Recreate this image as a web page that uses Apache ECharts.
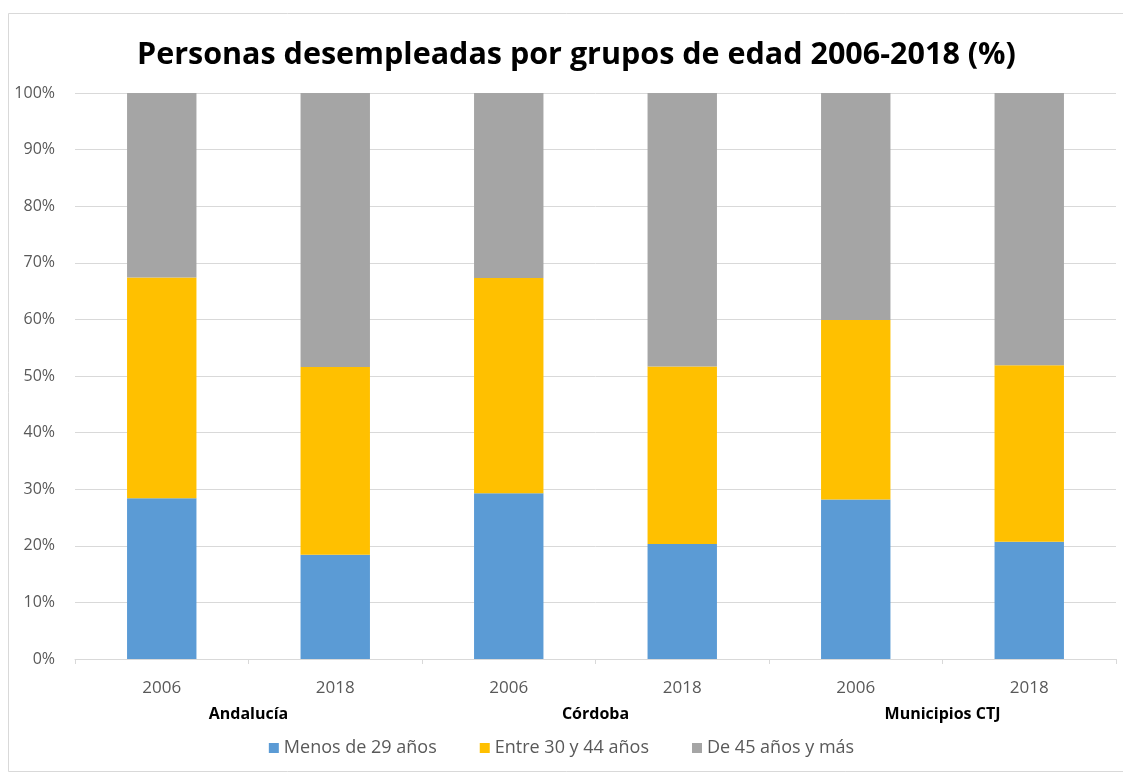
<!DOCTYPE html>
<html>
<head>
<meta charset="utf-8">
<script src="https://cdn.jsdelivr.net/npm/echarts@6/dist/echarts.min.js"></script>
<style>
html,body{margin:0;padding:0;background:#fff;}
#chart{width:1123px;height:774px;}
</style>
</head>
<body>
<div id="chart"></div>
<script>
const years = ['2006', '2018', '2006', '2018', '2006', '2018'];
const regions = ['Andalucía', 'Córdoba', 'Municipios CTJ'];
const seriesNames = ['Menos de 29 años', 'Entre 30 y 44 años', 'De 45 años y más'];
const menos29 = [28.4, 18.4, 29.3, 20.3, 28.2, 20.7];
const entre30y44 = [39.0, 33.2, 38.0, 31.4, 31.7, 31.2];
const de45ymas = [32.6, 48.4, 32.7, 48.3, 40.1, 48.1];
const yTicks = [0, 10, 20, 30, 40, 50, 60, 70, 80, 90, 100];
const colors = ['#5B9BD5', '#FFC000', '#A5A5A5'];

const chart = echarts.init(document.getElementById('chart'), null, {renderer: 'canvas'});
const font = 'Open Sans, Liberation Sans, sans-serif';
const seriesData = [menos29, entre30y44, de45ymas];

chart.setOption({
  animation: false,
  backgroundColor: '#ffffff',
  textStyle: {fontFamily: font},
  title: {
    text: 'Personas desempleadas por grupos de edad 2006-2018 (%)',
    left: 132,
    top: 35,
    textStyle: {fontFamily: font, fontWeight: 'bold', fontSize: 30.5, color: '#000000'}
  },
  graphic: [{
    type: 'rect',
    shape: {x: 8.5, y: 13.5, width: 1130, height: 758},
    style: {fill: null, stroke: '#d9d9d9', lineWidth: 1},
    silent: true
  }],
  legend: {
    top: 734,
    left: 'center',
    itemWidth: 10,
    itemHeight: 10,
    itemGap: 43,
    icon: 'rect',
    data: seriesNames,
    textStyle: {fontFamily: font, fontSize: 18, color: '#595959'}
  },
  grid: {left: 75, right: 7, top: 93, bottom: 115, containLabel: false},
  xAxis: [{
    type: 'category',
    data: years,
    axisLine: {lineStyle: {color: '#d9d9d9', width: 1}},
    axisTick: {show: true, alignWithLabel: false, length: 5, lineStyle: {color: '#d9d9d9'}},
    axisLabel: {color: '#595959', fontSize: 17, margin: 21, fontFamily: font}
  }, {
    type: 'category',
    data: regions,
    position: 'bottom',
    offset: 42,
    axisLine: {show: false},
    axisTick: {show: false},
    axisLabel: {color: '#000000', fontSize: 16, fontWeight: 'bold', margin: 5, fontFamily: font}
  }],
  yAxis: {
    type: 'value',
    min: 0,
    max: 100,
    interval: 10,
    axisLine: {show: false},
    axisTick: {show: false},
    splitLine: {lineStyle: {color: '#d9d9d9', width: 1}},
    axisLabel: {
      color: '#595959', fontSize: 16, margin: 20, fontFamily: font,
      formatter: v => yTicks.includes(v) ? v + '%' : ''
    }
  },
  series: seriesNames.map((name, i) => ({
    name: name,
    type: 'bar',
    stack: 'total',
    xAxisIndex: 0,
    barWidth: '40%',
    itemStyle: {color: colors[i]},
    data: seriesData[i]
  }))
});
</script>
</body>
</html>
